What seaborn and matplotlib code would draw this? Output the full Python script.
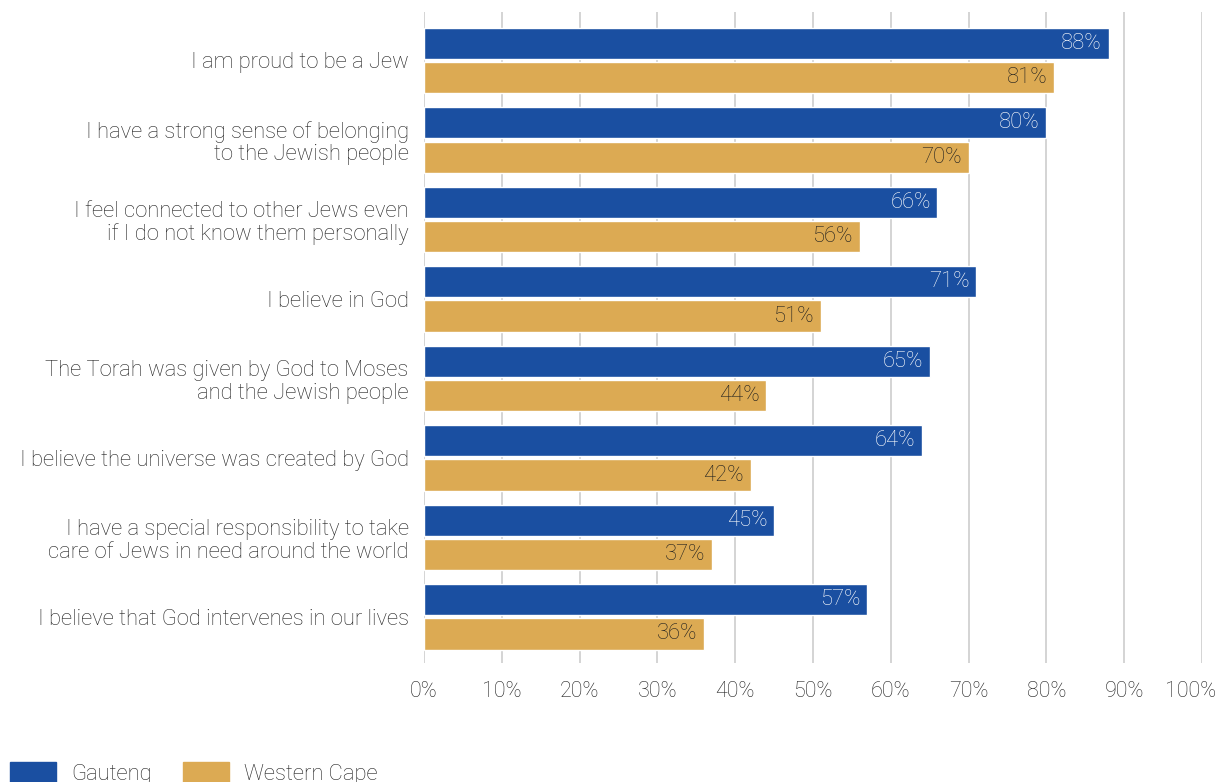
import matplotlib
matplotlib.use("Agg")
import matplotlib.pyplot as plt
import matplotlib.patches as mpatches
import matplotlib.transforms as mtransforms
import seaborn as sns
import pandas as pd

statements = [
    "I am proud to be a Jew",
    "I have a strong sense of belonging\nto the Jewish people",
    "I feel connected to other Jews even\nif I do not know them personally",
    "I believe in God",
    "The Torah was given by God to Moses\nand the Jewish people",
    "I believe the universe was created by God",
    "I have a special responsibility to take\ncare of Jews in need around the world",
    "I believe that God intervenes in our lives",
]
gauteng = [88, 80, 66, 71, 65, 64, 45, 57]
western_cape = [81, 70, 56, 51, 44, 42, 37, 36]
regions = ["Gauteng", "Western Cape"]
x_ticks = [0, 10, 20, 30, 40, 50, 60, 70, 80, 90, 100]

BLUE = "#1a4fa1"
GOLD = "#dcaa53"
TEXT = "#222222"
FS = 15.8

df = pd.DataFrame({
    "statement": statements * 2,
    "region": [regions[0]] * len(statements) + [regions[1]] * len(statements),
    "value": gauteng + western_cape,
})

sns.set_theme(style="white")
plt.rcParams["font.family"] = ["Roboto", "DejaVu Sans"]
plt.rcParams["font.weight"] = "light"

fig = plt.figure(figsize=(12.2, 7.82), dpi=100)
ax = fig.add_axes([424 / 1220, 1 - 663 / 782, (1202 - 424) / 1220, (663 - 12) / 782])

sns.barplot(data=df, y="statement", x="value", hue="region", order=statements,
            hue_order=regions, palette=[BLUE, GOLD], orient="h",
            width=0.86, gap=0.09, ax=ax, legend=False, saturation=1)

ax.set_xlim(0, 100)
ax.set_ylim(7.58, -0.61)
ax.set_xticks(x_ticks)
ax.set_xticklabels([f"{t}%" for t in x_ticks])
ax.xaxis.grid(True, color="#c9c9c9", linewidth=1.1)
ax.set_axisbelow(True)
for s in ax.spines.values():
    s.set_visible(False)
ax.set_xlabel("")
ax.set_ylabel("")
ax.tick_params(axis="y", length=0, pad=11, labelsize=FS, labelcolor=TEXT)
ax.tick_params(axis="x", length=0, pad=13, labelsize=FS - 0.3, labelcolor=TEXT)
for lbl in ax.get_yticklabels():
    lbl.set_horizontalalignment("right")
    lbl.set_multialignment("right")
    lbl.set_linespacing(1.1)
# keep the last tick label inside the figure edge
last = ax.get_xticklabels()[-1]
last.set_transform(last.get_transform() +
                   mtransforms.ScaledTranslation(-11 / 100, 0, fig.dpi_scale_trans))

for container, color in zip(ax.containers, ["white", "#1e1e1e"]):
    ax.bar_label(container, labels=[f"{v:.0f}%" for v in container.datavalues],
                 padding=-5, color=color, fontsize=FS)
    for t in ax.texts[-len(container):]:
        t.set_horizontalalignment("right")

handles = [mpatches.Patch(color=BLUE, label=regions[0]),
           mpatches.Patch(color=GOLD, label=regions[1])]
fig.legend(handles=handles, loc="lower left", bbox_to_anchor=(10 / 1220, -3 / 782), ncol=2,
           frameon=False, fontsize=FS, handlelength=2.1, handleheight=1.1,
           columnspacing=1.4, handletextpad=0.7, labelcolor=TEXT,
           borderaxespad=0, borderpad=0)

fig.savefig("out.png", dpi=100)
